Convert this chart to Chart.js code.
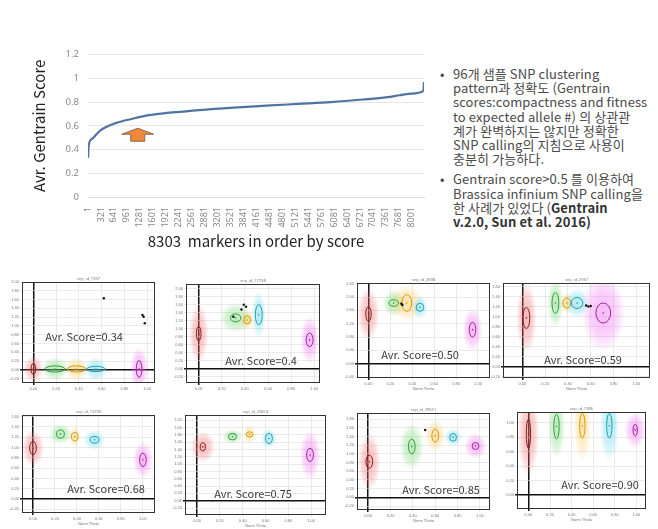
<!DOCTYPE html>
<html>
<head>
<meta charset="utf-8">
<script src="https://cdn.jsdelivr.net/npm/chart.js@4.4.0/dist/chart.umd.min.js"></script>
<style>
  body { margin: 0; background: #fff; }
  #page { position: relative; width: 658px; height: 529px; overflow: hidden; font-family: "Noto Sans CJK KR", "Noto Sans", sans-serif; }
  canvas { position: absolute; }
  .notes { position: absolute; left: 440px; top: 67px; font-size: 13px; letter-spacing: 0.1px; line-height: 14.2px; color: #4a4a4a; white-space: nowrap; }
  .notes .item { position: relative; padding-left: 13px; }
  .notes .item::before { content: "•"; position: absolute; left: 0; top: 0; }
  .notes b { font-weight: bold; color: #333; }
  .score { position: absolute; font-size: 11px; color: #3a3a3a; white-space: nowrap; transform: translate(-50%, -50%); }
</style>
</head>
<body>
<div id="page">
  <canvas id="main-chart" width="400" height="212" style="left:30px; top:40px;"></canvas>
  <div class="notes">
    <div class="item">96개 샘플 SNP clustering<br>pattern과 정확도 (Gentrain<br>scores:compactness and fitness<br>to expected allele #) 의 상관관<br>계가 완벽하지는 않지만 정확한<br>SNP calling의 지침으로 사용이<br>충분히 가능하다.</div>
    <div class="item" style="margin-top:6px;">Gentrain score&gt;0.5 를 이용하여<br>Brassica infinium SNP calling을<br>한 사례가 있었다 (<b>Gentrain</b><br><b>v.2.0, Sun et al. 2016)</b></div>
  </div>
</div>
<script>
// ---- main curve: average gentrain score of markers sorted by score ----
var markerIndex = [1, 20, 100, 300, 700, 1100, 1500, 1900, 2350, 2750, 3600, 4400, 5200, 6000, 6800, 7400, 7700, 8000, 8290, 8303];
var avgScore    = [0.33, 0.44, 0.49, 0.56, 0.625, 0.66, 0.69, 0.707, 0.72, 0.733, 0.754, 0.77, 0.785, 0.80, 0.822, 0.842, 0.858, 0.872, 0.895, 0.97];
var xTickLabels = [1, 321, 641, 961, 1281, 1601, 1921, 2241, 2561, 2881, 3201, 3521, 3841, 4161, 4481, 4801, 5121, 5441, 5761, 6081, 6401, 6721, 7041, 7361, 7681, 8001];
var yTickLabels = [0, 0.2, 0.4, 0.6, 0.8, 1, 1.2];

// ---- cluster plots (8 example markers) ----
var panelScoreLabels = ['0.34', '0.4', '0.50', '0.59', '0.68', '0.75', '0.85', '0.90'];
var panelTitles = ['snp_id_1937', 'snp_id_17738', 'snp_id_2698', 'snp_id_2937', 'snp_id_12290', 'snp_id_25874', 'snp_id_29551', 'snp_id_1966'];
var panelThetaMin = [-0.1, -0.11, -0.105, -0.17, -0.1, -0.106, -0.1, -0.106];
var panelThetaMax = [1.07, 1.05, 1.11, 1.12, 1.11, 1.13, 1.09, 1.09];
var panelRMin = [-0.3, -0.36, -0.43, -0.23, -0.27, -0.39, -0.29, -0.19];
var panelRMax = [2.0, 2.12, 2.42, 1.67, 1.63, 2.34, 1.94, 1.15];
var panelRStep = [0.2, 0.2, 0.2, 0.2, 0.1, 0.2, 0.2, 0.2];

// cluster order: AA(red), green, yellow, cyan, BB(magenta)
var clusterTheta = [
  [0.0, 0.19, 0.38, 0.55, 0.93],
  [0.0, 0.32, 0.42, 0.52, 0.96],
  [0.0, 0.23, 0.35, 0.47, 0.95],
  [0.035, 0.29, 0.39, 0.48, 0.71],
  [0.0, 0.25, 0.38, 0.56, 1.0],
  [0.05, 0.31, 0.46, 0.63, 0.99],
  [0.01, 0.39, 0.6, 0.76, 0.96],
  [0.0, 0.26, 0.5, 0.75, 0.99]
];
var clusterR = [
  [0.02, 0.02, 0.02, 0.02, 0.02],
  [0.875, 1.27, 1.22, 1.35, 0.72],
  [1.49, 1.82, 1.82, 1.69, 1.02],
  [0.97, 1.27, 1.27, 1.27, 1.07],
  [0.99, 1.26, 1.21, 1.15, 0.76],
  [1.47, 1.75, 1.81, 1.7, 1.25],
  [0.82, 1.17, 1.42, 1.38, 1.18],
  [0.85, 0.95, 0.96, 0.96, 0.9]
];
var ellipseHalfTheta = [
  [0.02, 0.087, 0.08, 0.08, 0.025],
  [0.02, 0.045, 0.03, 0.03, 0.03],
  [0.025, 0.045, 0.045, 0.035, 0.03],
  [0.03, 0.03, 0.035, 0.05, 0.065],
  [0.03, 0.035, 0.03, 0.04, 0.03],
  [0.023, 0.035, 0.03, 0.03, 0.03],
  [0.03, 0.03, 0.03, 0.03, 0.03],
  [0.02, 0.025, 0.025, 0.025, 0.02]
];
var ellipseHalfR = [
  [0.12, 0.07, 0.07, 0.06, 0.19],
  [0.18, 0.1, 0.1, 0.25, 0.17],
  [0.22, 0.1, 0.25, 0.12, 0.22],
  [0.21, 0.21, 0.1, 0.11, 0.2],
  [0.13, 0.08, 0.08, 0.065, 0.13],
  [0.11, 0.09, 0.07, 0.14, 0.18],
  [0.15, 0.17, 0.15, 0.09, 0.08],
  [0.2, 0.17, 0.17, 0.17, 0.08]
];
var blobHalfTheta = [
  [0.087, 0.12, 0.1, 0.1, 0.08],
  [0.085, 0.14, 0.06, 0.06, 0.08],
  [0.1, 0.1, 0.15, 0.07, 0.09],
  [0.09, 0.07, 0.06, 0.11, 0.19],
  [0.1, 0.11, 0.05, 0.1, 0.09],
  [0.11, 0.09, 0.05, 0.07, 0.09],
  [0.1, 0.11, 0.09, 0.08, 0.1],
  [0.1, 0.08, 0.08, 0.09, 0.1]
];
var blobHalfR = [
  [0.3, 0.27, 0.27, 0.27, 0.5],
  [0.75, 0.38, 0.25, 0.6, 0.6],
  [0.8, 0.4, 0.55, 0.35, 0.65],
  [0.72, 0.5, 0.22, 0.3, 0.77],
  [0.36, 0.2, 0.2, 0.2, 0.36],
  [0.43, 0.2, 0.27, 0.27, 0.68],
  [0.67, 0.54, 0.38, 0.21, 0.3],
  [0.6, 0.45, 0.5, 0.5, 0.25]
];
// stray (uncalled) samples
var strayTheta = [[0.96, 0.97, 0.98, 0.62], [0.37, 0.39, 0.41, 0.3], [0.3, 0.31], [0.56, 0.58, 0.6], [], [], [0.51], []];
var strayR     = [[1.25, 1.21, 1.06, 1.63], [1.48, 1.6, 1.55, 1.3], [1.8, 1.76], [1.22, 1.2, 1.21], [], [], [1.55], []];

// layout of the 8 plot frames: [left, top, right, bottom] and score label centre
var panelFrames = [
  [22, 282, 157, 383], [186, 284, 322, 383], [357, 283, 492, 378], [503, 283, 652, 378],
  [22, 415, 157, 513], [185, 415, 328, 515], [357, 413, 492, 510], [517, 412, 648, 509]
];
var scorePos = [[84, 336], [261, 360], [420, 354], [583, 359], [106, 488], [253, 493], [441, 489], [600, 484]];

var blobColors = ['240,110,110', '120,215,120', '250,200,90', '100,215,240', '240,110,240'];
var ringColors = ['#8b1a1a', '#2e9e3e', '#d99a00', '#1a9fb0', '#a020a0'];

// up arrow drawn under the curve
var arrowPlugin = {
  id: 'arrow',
  afterDatasetsDraw: function (chart) {
    var ctx = chart.ctx;
    var x = chart.scales.x.getPixelForValue(1230);
    var y = chart.scales.y.getPixelForValue(0.58);
    ctx.save();
    ctx.beginPath();
    ctx.moveTo(x, y);
    ctx.lineTo(x + 16, y + 6);
    ctx.lineTo(x + 7, y + 6);
    ctx.lineTo(x + 7, y + 13);
    ctx.lineTo(x - 7, y + 13);
    ctx.lineTo(x - 7, y + 6);
    ctx.lineTo(x - 16, y + 6);
    ctx.closePath();
    ctx.fillStyle = '#f0883a';
    ctx.fill();
    ctx.strokeStyle = '#8a6a55';
    ctx.lineWidth = 1;
    ctx.stroke();
    ctx.restore();
  }
};

new Chart(document.getElementById('main-chart'), {
  type: 'line',
  data: {
    datasets: [{
      data: markerIndex.map(function (m, i) { return { x: m, y: avgScore[i] }; }),
      borderColor: '#4f74a3',
      borderWidth: 2.2,
      pointRadius: 0,
      fill: false,
      cubicInterpolationMode: 'monotone'
    }]
  },
  options: {
    responsive: false,
    animation: false,
    layout: { padding: { top: 12, right: 6 } },
    plugins: { legend: { display: false }, tooltip: { enabled: false } },
    scales: {
      x: {
        type: 'linear',
        min: 1,
        max: 8303,
        afterBuildTicks: function (s) { s.ticks = xTickLabels.map(function (v) { return { value: v }; }); },
        afterFit: function (s) { s.height = 55; },
        ticks: { autoSkip: false, minRotation: 90, maxRotation: 90, color: '#8a8a8a', font: { size: 9, family: 'Noto Sans' }, padding: 2,
                 callback: function (v) { return String(v); } },
        grid: { display: false },
        border: { display: true, color: '#d9d9d9' },
        title: { display: true, text: '8303  markers in order by score', color: '#222', font: { size: 15, family: 'Noto Sans CJK KR' }, padding: { top: 0, bottom: 2 } }
      },
      y: {
        min: 0,
        max: 1.2,
        afterBuildTicks: function (s) { s.ticks = yTickLabels.map(function (v) { return { value: v }; }); },
        afterFit: function (s) { s.width = 58; },
        ticks: { color: '#8a8a8a', font: { size: 9.5, family: 'Noto Sans' }, padding: 9,
                 callback: function (v) { return String(Math.round(v * 10) / 10); } },
        grid: { color: '#e6e6e6', drawTicks: false },
        border: { display: false },
        title: { display: true, text: 'Avr. Gentrain Score', color: '#222', font: { size: 15, family: 'Noto Sans CJK KR' }, padding: { top: 0, bottom: 3 } }
      }
    }
  },
  plugins: [arrowPlugin]
});

// ---- the 8 cluster plots ----
var page = document.getElementById('page');

function makeClusterPlugin(p) {
  return {
    id: 'clusters' + p,
    beforeDatasetsDraw: function (chart) {
      var ctx = chart.ctx, xs = chart.scales.x, ys = chart.scales.y, a = chart.chartArea;
      ctx.save();
      ctx.beginPath();
      ctx.rect(a.left, a.top, a.right - a.left, a.bottom - a.top);
      ctx.clip();
      for (var c = 0; c < 5; c++) {
        var cx = xs.getPixelForValue(clusterTheta[p][c]);
        var cy = ys.getPixelForValue(clusterR[p][c]);
        var bw = Math.abs(xs.getPixelForValue(clusterTheta[p][c] + blobHalfTheta[p][c]) - cx);
        var bh = Math.abs(ys.getPixelForValue(clusterR[p][c] + blobHalfR[p][c]) - cy);
        ctx.save();
        ctx.translate(cx, cy);
        ctx.scale(bw, bh);
        var g = ctx.createRadialGradient(0, 0, 0, 0, 0, 1);
        g.addColorStop(0, 'rgba(' + blobColors[c] + ',0.5)');
        g.addColorStop(0.6, 'rgba(' + blobColors[c] + ',0.3)');
        g.addColorStop(1, 'rgba(' + blobColors[c] + ',0)');
        ctx.fillStyle = g;
        ctx.beginPath();
        ctx.arc(0, 0, 1, 0, Math.PI * 2);
        ctx.fill();
        ctx.restore();
      }
      for (c = 0; c < 5; c++) {
        cx = xs.getPixelForValue(clusterTheta[p][c]);
        cy = ys.getPixelForValue(clusterR[p][c]);
        var ew = Math.abs(xs.getPixelForValue(clusterTheta[p][c] + ellipseHalfTheta[p][c]) - cx);
        var eh = Math.abs(ys.getPixelForValue(clusterR[p][c] + ellipseHalfR[p][c]) - cy);
        ctx.beginPath();
        ctx.ellipse(cx, cy, ew, eh, 0, 0, Math.PI * 2);
        ctx.strokeStyle = ringColors[c];
        ctx.lineWidth = 1;
        ctx.stroke();
      }
      ctx.restore();
    },
    afterDraw: function (chart) {
      var ctx = chart.ctx, a = chart.chartArea;
      ctx.save();
      ctx.strokeStyle = '#333';
      ctx.lineWidth = 1;
      ctx.strokeRect(a.left + 0.5, a.top + 0.5, a.right - a.left - 1, a.bottom - a.top - 1);
      ctx.fillStyle = '#777';
      ctx.font = '4px "Noto Sans"';
      ctx.textAlign = 'center';
      ctx.fillText(panelTitles[p], (a.left + a.right) / 2, a.top - 2);
      ctx.restore();
    }
  };
}

function zeroColor(ctx) { return ctx.tick && Math.abs(ctx.tick.value) < 1e-9 ? '#111' : '#dcdcdc'; }
function zeroWidth(ctx) { return ctx.tick && Math.abs(ctx.tick.value) < 1e-9 ? 1.5 : 0.6; }

for (var p = 0; p < 8; p++) {
  var f = panelFrames[p];
  var cv = document.createElement('canvas');
  cv.width = (f[2] - f[0]) + 14;
  cv.height = (f[3] - f[1]) + 8 + 14;
  cv.style.left = (f[0] - 12) + 'px';
  cv.style.top = (f[1] - 8) + 'px';
  page.appendChild(cv);

  (function (p) {
    new Chart(cv, {
      type: 'scatter',
      data: {
        datasets: [{
          data: clusterTheta[p].map(function (t, c) { return { x: t, y: clusterR[p][c] }; }),
          pointRadius: 0.8,
          pointBackgroundColor: ringColors,
          pointBorderWidth: 0
        }, {
          data: strayTheta[p].map(function (t, k) { return { x: t, y: strayR[p][k] }; }),
          pointRadius: 1.2,
          pointBackgroundColor: '#111',
          pointBorderWidth: 0
        }]
      },
      options: {
        responsive: false,
        animation: false,
        layout: { padding: { top: 8, right: 2, left: 0, bottom: 0 } },
        plugins: { legend: { display: false }, tooltip: { enabled: false } },
        scales: {
          x: {
            type: 'linear',
            min: panelThetaMin[p],
            max: panelThetaMax[p],
            afterBuildTicks: function (s) {
              var t = [];
              for (var v = 0; v <= s.max + 1e-9; v += 0.2) { t.push({ value: Math.round(v * 10) / 10 }); }
              s.ticks = t;
            },
            afterFit: function (s) { s.height = 14; },
            ticks: { color: '#777', font: { size: 4 }, padding: 1, callback: function (v) { return v.toFixed(2); } },
            grid: { color: zeroColor, lineWidth: zeroWidth, tickLength: 2 },
            border: { display: false },
            title: { display: p > 1, text: 'Norm Theta', color: '#777', font: { size: 4 }, padding: 1 }
          },
          y: {
            type: 'linear',
            min: panelRMin[p],
            max: panelRMax[p],
            afterBuildTicks: function (s) {
              var st = panelRStep[p], t = [];
              var start = Math.ceil(s.min / st - 1e-9) * st;
              for (var v = start; v <= s.max + 1e-9; v += st) { t.push({ value: Math.round(v * 100) / 100 }); }
              s.ticks = t;
            },
            afterFit: function (s) { s.width = 12; },
            ticks: { color: '#777', font: { size: 4 }, padding: 1, callback: function (v) { return v.toFixed(2); } },
            grid: { color: zeroColor, lineWidth: zeroWidth, tickLength: 2 },
            border: { display: false }
          }
        }
      },
      plugins: [makeClusterPlugin(p)]
    });
  })(p);

  var lab = document.createElement('div');
  lab.className = 'score';
  lab.style.left = scorePos[p][0] + 'px';
  lab.style.top = scorePos[p][1] + 'px';
  lab.textContent = 'Avr. Score=' + panelScoreLabels[p];
  page.appendChild(lab);
}
</script>
</body>
</html>
